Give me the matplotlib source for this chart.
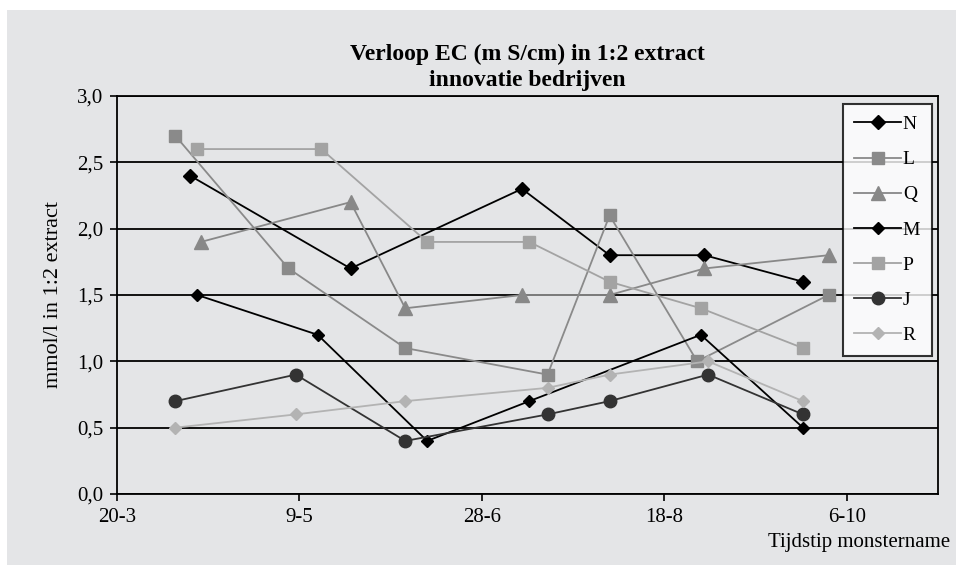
import numpy as np
import matplotlib.pyplot as plt
from matplotlib.patches import Rectangle

plt.rcParams['font.family'] = ['Liberation Serif', 'DejaVu Serif']

# x = days after 20-3
tick_days = [0, 50, 100, 150, 200]
tick_labels = ['20-3', '9-5', '28-6', '18-8', '6-10']

n_days = [20, 64, 111, 135, 161, 188]
n_vals = [2.4, 1.7, 2.3, 1.8, 1.8, 1.6]
l_days = [16, 47, 79, 118, 135, 159, 195]
l_vals = [2.7, 1.7, 1.1, 0.9, 2.1, 1.0, 1.5]
q_days = [23, 64, 79, 111, 135, 161, 195]
q_vals = [1.9, 2.2, 1.4, 1.5, 1.5, 1.7, 1.8]
m_days = [22, 55, 85, 113, 160, 188]
m_vals = [1.5, 1.2, 0.4, 0.7, 1.2, 0.5]
p_days = [22, 56, 85, 113, 135, 160, 188]
p_vals = [2.6, 2.6, 1.9, 1.9, 1.6, 1.4, 1.1]
j_days = [16, 49, 79, 118, 135, 162, 188]
j_vals = [0.7, 0.9, 0.4, 0.6, 0.7, 0.9, 0.6]
r_days = [16, 49, 79, 118, 135, 162, 188]
r_vals = [0.5, 0.6, 0.7, 0.8, 0.9, 1.0, 0.7]

bg = '#e4e5e7'
fig = plt.figure(figsize=(9.57, 5.65), dpi=100, facecolor='white')
fig.patches.append(Rectangle((7/957, 0), 949/957, 555/565, transform=fig.transFigure,
                             facecolor=bg, edgecolor='none', zorder=-10))
ax = fig.add_axes([117/957, 71/565, 821/957, 398/565])
ax.set_facecolor(bg)

ax.plot(n_days, n_vals, color='black', lw=1.3, marker='D', ms=7, label='N')
ax.plot(l_days, l_vals, color='#8a8a8a', lw=1.3, marker='s', ms=9, label='L')
ax.plot(q_days, q_vals, color='#888888', lw=1.3, marker='^', ms=10, label='Q')
ax.plot(m_days, m_vals, color='black', lw=1.3, marker='D', ms=6, label='M')
ax.plot(p_days, p_vals, color='#a3a3a3', lw=1.3, marker='s', ms=9, label='P')
ax.plot(j_days, j_vals, color='#333333', lw=1.3, marker='o', ms=9, label='J')
ax.plot(r_days, r_vals, color='#b3b3b3', lw=1.3, marker='D', ms=6, label='R')

ax.set_xlim(0, 225)
ax.set_ylim(0, 3.0)
ax.set_xticks(tick_days)
ax.set_xticklabels(tick_labels)
yt = np.arange(0, 3.01, 0.5)
ax.set_yticks(yt)
ax.set_yticklabels([f'{v:.1f}'.replace('.', ',') for v in yt])
ax.tick_params(axis='both', labelsize=15, length=5, width=1.2, pad=5)
ax.yaxis.grid(True, color='black', lw=1.3)
ax.set_axisbelow(True)
for s in ax.spines.values():
    s.set_linewidth(1.3)

ax.set_ylabel('mmol/l in 1:2 extract', fontsize=16, labelpad=10)
fig.text(950/957, 1 - 542/565, 'Tijdstip monstername', fontsize=15, ha='right', va='center')
ax.set_title('Verloop EC (m S/cm) in 1:2 extract\ninnovatie bedrijven', fontsize=17,
             fontweight='bold', pad=7, linespacing=1.35)

leg = fig.legend(loc='upper right', bbox_to_anchor=(932/957, 1 - 104/565), fontsize=14,
                 frameon=True, fancybox=False, edgecolor='black', facecolor='white',
                 labelspacing=0.9, handlelength=2.4, handletextpad=0.1, borderpad=0.6,
                 borderaxespad=0)
leg.get_frame().set_linewidth(1.5)

fig.savefig('out.png', dpi=100)
